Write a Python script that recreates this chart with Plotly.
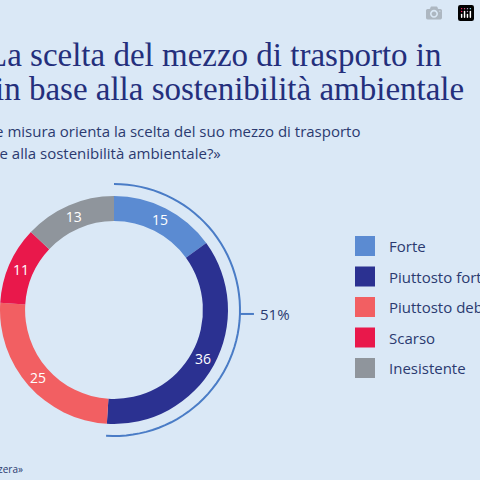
import math
import plotly.graph_objects as go

categories = ["Forte", "Piuttosto forte", "Piuttosto debole", "Scarso", "Inesistente"]
values = [15, 36, 25, 11, 13]
colors = ["#5b8bd2", "#2b3191", "#f25f62", "#e9184b", "#8f959c"]
bracket_share = 51

BG = "#dae8f6"
W = H = 480
cx, cy, R = 114, 310, 114

fig = go.Figure(go.Pie(
    labels=categories, values=values, sort=False, direction="clockwise", rotation=0,
    hole=0.78, marker=dict(colors=colors, line=dict(color=BG, width=0)),
    textinfo="value", textposition="inside", insidetextorientation="horizontal",
    textfont=dict(color="white", size=14, family="Open Sans"),
    domain=dict(x=[(cx - R) / W, (cx + R) / W], y=[1 - (cy + R) / H, 1 - (cy - R) / H]),
    showlegend=False, hoverinfo="label+value"))

rb = R + 12
end = 360 * sum(values[:2]) / sum(values)
pts = []
for i in range(61):
    a = math.radians(end * i / 60)
    pts.append((cx + rb * math.sin(a), cy - rb * math.cos(a)))
path = "M " + " L ".join(f"{x/W:.4f},{1-y/H:.4f}" for x, y in pts)
shapes = [dict(type="path", path=path, xref="paper", yref="paper",
               line=dict(color="#4a7cc6", width=2))]
mid = math.radians(end / 2)
mx, my = cx + rb * math.sin(mid), cy - rb * math.cos(mid)
shapes.append(dict(type="line", xref="paper", yref="paper", x0=mx / W, y0=1 - my / H,
                   x1=(mx + 14) / W, y1=1 - my / H, line=dict(color="#4a7cc6", width=2)))

ann = [dict(x=(mx + 18) / W, y=1 - my / H, xref="paper", yref="paper", xanchor="left",
            yanchor="middle", text=f"{bracket_share}%", showarrow=False,
            font=dict(size=15, color="#2b3a70", family="Open Sans"))]

for i, (c, col) in enumerate(zip(categories, colors)):
    yc = 246 + i * 30.5
    shapes.append(dict(type="rect", xref="paper", yref="paper", x0=355 / W, x1=375 / W,
                       y0=1 - (yc + 10) / H, y1=1 - (yc - 10) / H, fillcolor=col, line=dict(width=0)))
    ann.append(dict(x=387 / W, y=1 - yc / H, xref="paper", yref="paper", xanchor="left",
                    yanchor="middle", text=c, showarrow=False,
                    font=dict(size=15, color="#2b3a70", family="Open Sans")))

title_font = dict(size=34, color="#242f7c", family="DejaVu Serif")
ann += [
    dict(x=444 / W, y=1 - 55 / H, text="La scelta del mezzo di trasporto in",
         font=dict(size=33, color="#242f7c", family="Liberation Serif")),
    dict(x=466 / W, y=1 - 89 / H, text="in base alla sostenibilità ambientale",
         font=dict(size=33, color="#242f7c", family="Liberation Serif")),
    dict(x=362 / W, y=1 - 131 / H, text="«In che misura orienta la scelta del suo mezzo di trasporto",
         font=dict(size=15, color="#2b3a70", family="Open Sans")),
    dict(x=223 / W, y=1 - 153 / H, text="in base alla sostenibilità ambientale?»",
         font=dict(size=15, color="#2b3a70", family="Open Sans")),
    dict(x=25 / W, y=1 - 469 / H, text="Fonte: «Mobilità in Svizzera»",
         font=dict(size=10, color="#2b3a70", family="Open Sans")),
]
for a in ann[-5:]:
    a.update(xref="paper", yref="paper", xanchor="right", yanchor="middle", showarrow=False)

fig.update_layout(width=W, height=H, margin=dict(l=0, r=0, t=0, b=0),
                  paper_bgcolor=BG, plot_bgcolor=BG, shapes=shapes, annotations=ann)
fig.write_html("out.html", post_script="document.body.style.margin='0';document.body.style.background='%s';" % BG)
